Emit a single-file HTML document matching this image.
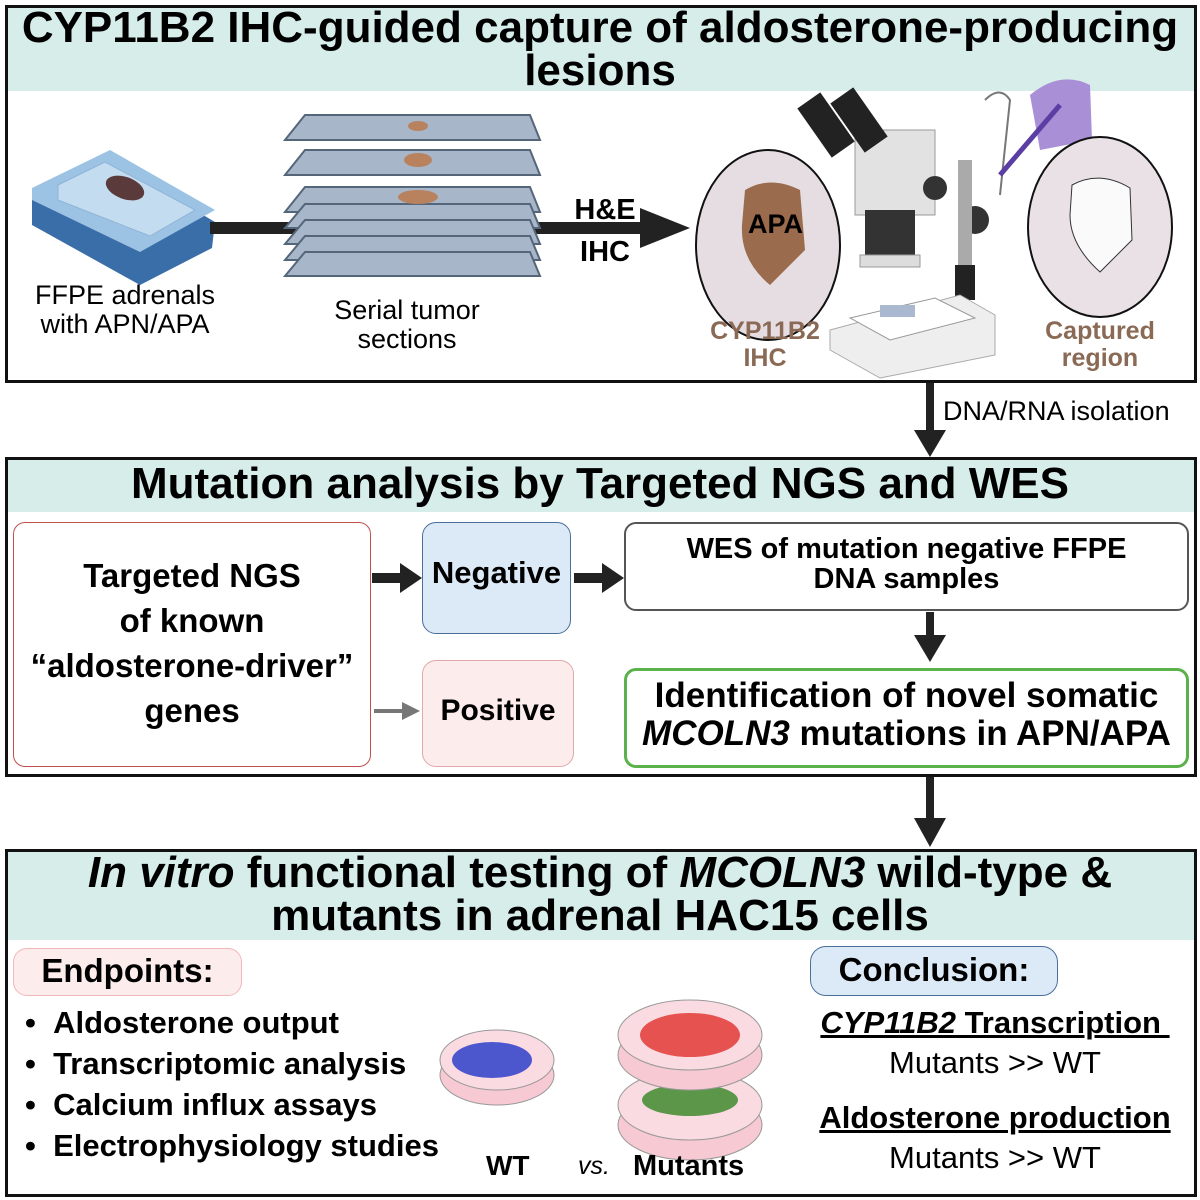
<!DOCTYPE html>
<html><head><meta charset="utf-8"><style>
body{margin:0;width:1200px;height:1200px;background:#fff;position:relative;font-family:"Liberation Sans",Arial,sans-serif;overflow:hidden}
.a{position:absolute}
.box{position:absolute;box-sizing:border-box}
.c{text-align:center}
b{font-weight:bold}
</style></head><body>
<!-- Section 1 -->
<div class="box" style="left:5px;top:5px;width:1192px;height:378px;border:3px solid #111"></div>
<div class="box" style="left:8px;top:8px;width:1186px;height:83px;background:#d6edea"></div>
<div class="a c" style="left:0;top:6px;width:1200px;font-size:44px;font-weight:bold;line-height:43px;white-space:nowrap">CYP11B2 IHC-guided capture of aldosterone-producing<br>lesions</div>

<svg class="a" style="left:0;top:0" width="1200" height="1200">
 <!-- block -->
 <polygon points="32,200 110,160 215,222 212,248 140,285 32,225" fill="#3a6ea8"/>
 <polygon points="32,188 110,150 215,210 140,252 32,200" fill="#9cc2e4"/>
 <polygon points="58,185 105,162 195,210 150,236 58,200" fill="#c4dcef" stroke="#8fb4d6"/>
 <ellipse cx="125" cy="188" rx="20" ry="11" fill="#5a3a3a" transform="rotate(20 125 188)"/>
 <!-- main arrow -->
 <rect x="210" y="222" width="430" height="12" fill="#222"/>
 <polygon points="640,208 690,228 640,248" fill="#222"/>
 <!-- slides -->
 <g fill="#a7b6c8" stroke="#55667a" stroke-width="2">
  <polygon points="305,115 530,115 540,140 285,140"/>
  <polygon points="305,150 530,150 540,175 285,175"/>
  <polygon points="305,187 530,187 540,212 285,212"/>
  <polygon points="305,204 530,204 540,228 285,228"/>
  <polygon points="305,220 530,220 540,244 285,244"/>
  <polygon points="305,236 530,236 540,260 285,260"/>
  <polygon points="305,252 530,252 540,276 285,276"/>
 </g>
 <ellipse cx="418" cy="126" rx="10" ry="5" fill="#b8825e"/>
 <ellipse cx="418" cy="160" rx="14" ry="7" fill="#b8825e"/>
 <ellipse cx="418" cy="197" rx="20" ry="7" fill="#b8825e"/>
 <!-- microscope -->
 <path d="M985,100 Q1000,85 1010,100 L1000,195" fill="none" stroke="#777" stroke-width="2"/>
 <rect x="855" y="130" width="80" height="85" fill="#e2e2e2" stroke="#999"/>
 <rect x="865" y="210" width="50" height="45" fill="#333"/>
 <rect x="860" y="255" width="60" height="12" fill="#ddd" stroke="#999"/>
 <circle cx="935" cy="188" r="12" fill="#333"/>
 <circle cx="975" cy="220" r="14" fill="#333"/>
 <rect x="958" y="160" width="14" height="140" fill="#aaa"/>
 <rect x="955" y="265" width="20" height="35" fill="#222"/>
 <polygon points="830,330 960,295 995,315 995,355 880,378 830,350" fill="#eee" stroke="#aaa"/>
 <polygon points="850,318 935,298 975,318 890,340" fill="#fff" stroke="#999"/>
 <rect x="880" y="305" width="35" height="12" fill="#aab8d0"/>
 <rect x="812" y="95" width="28" height="60" fill="#222" transform="rotate(-35 826 125)"/>
 <rect x="845" y="90" width="28" height="60" fill="#222" transform="rotate(-35 859 120)"/>
 <!-- hand -->
 <path d="M1030,95 Q1060,70 1090,85 L1092,140 L1040,150 Z" fill="#a98fd6"/>
 <line x1="1000" y1="175" x2="1060" y2="105" stroke="#5a3ea3" stroke-width="5"/>
 <!-- circles -->
 <ellipse cx="768" cy="245" rx="72" ry="95" fill="#e6dde2" stroke="#111" stroke-width="2"/>
 <path d="M745,190 Q770,175 800,190 L805,250 L770,285 Q740,260 742,225 Z" fill="#9a6b4c"/>
 <ellipse cx="1100" cy="227" rx="72" ry="90" fill="#e9e1e5" stroke="#111" stroke-width="2"/>
 <path d="M1072,185 Q1100,170 1130,188 L1132,240 L1100,272 Q1070,245 1070,215 Z" fill="#fafafa" stroke="#333"/>
 <!-- DNA arrow -->
 <rect x="926" y="383" width="8" height="50" fill="#222"/>
 <polygon points="914,430 930,457 946,430" fill="#222"/>
 <!-- arrow 2->3 -->
 <rect x="926" y="776" width="8" height="45" fill="#222"/>
 <polygon points="914,818 930,847 946,818" fill="#222"/>
 <!-- section 2 arrows -->
 <rect x="372" y="573" width="30" height="10" fill="#222"/><polygon points="400,563 422,578 400,593" fill="#222"/>
 <rect x="574" y="573" width="30" height="10" fill="#222"/><polygon points="602,563 624,578 602,593" fill="#222"/>
 <rect x="374" y="709" width="30" height="4" fill="#777"/><polygon points="402,702 420,711 402,720" fill="#777"/>
 <rect x="926" y="612" width="8" height="25" fill="#222"/><polygon points="914,635 930,662 946,635" fill="#222"/>
 <!-- dishes -->
 <ellipse cx="497" cy="1075" rx="57" ry="30" fill="#f6c9d3" stroke="#999"/>
 <ellipse cx="497" cy="1060" rx="57" ry="30" fill="#fbdbe2" stroke="#999"/>
 <ellipse cx="492" cy="1060" rx="40" ry="18" fill="#2d3ec9" opacity=".85"/>
 <ellipse cx="690" cy="1125" rx="72" ry="35" fill="#f6c9d3" stroke="#999"/>
 <ellipse cx="690" cy="1105" rx="72" ry="35" fill="#fbdbe2" stroke="#999"/>
 <ellipse cx="690" cy="1100" rx="48" ry="16" fill="#3f8a2e" opacity=".85"/>
 <ellipse cx="690" cy="1055" rx="72" ry="35" fill="#f6c9d3" stroke="#999"/>
 <ellipse cx="690" cy="1035" rx="72" ry="35" fill="#fbdbe2" stroke="#999"/>
 <ellipse cx="690" cy="1035" rx="50" ry="22" fill="#e23a35" opacity=".85"/>
</svg>
<div class="a c" style="left:0px;top:281px;width:250px;font-size:27px;line-height:29px">FFPE adrenals<br>with APN/APA</div>
<div class="a c" style="left:292px;top:296px;width:230px;font-size:27px;line-height:29px">Serial tumor<br>sections</div>
<div class="a c" style="left:555px;top:189px;width:100px;font-size:29px;font-weight:bold;line-height:42px">H&amp;E<br>IHC</div>
<div class="a" style="left:748px;top:209px;font-size:27px;font-weight:bold">APA</div>
<div class="a c" style="left:695px;top:318px;width:140px;font-size:25px;font-weight:bold;color:#8a6a55;line-height:27px">CYP11B2<br>IHC</div>
<div class="a c" style="left:1025px;top:318px;width:150px;font-size:25px;font-weight:bold;color:#8a6a55;line-height:27px">Captured<br>region</div>
<div class="a" style="left:943px;top:396px;font-size:27px">DNA/RNA isolation</div>

<!-- Section 2 -->
<div class="box" style="left:5px;top:457px;width:1192px;height:320px;border:3px solid #111"></div>
<div class="box" style="left:8px;top:460px;width:1186px;height:52px;background:#d6edea"></div>
<div class="a c" style="left:0;top:459px;width:1200px;font-size:44px;font-weight:bold">Mutation analysis by Targeted NGS and WES</div>
<div class="box c" style="left:13px;top:522px;width:358px;height:245px;border:1.5px solid #c0504d;border-radius:12px;padding-top:30px;font-size:33px;font-weight:bold;line-height:45px">Targeted NGS<br>of known<br>“aldosterone-driver”<br>genes</div>
<div class="box c" style="left:422px;top:522px;width:149px;height:112px;border:1.5px solid #4a6f9a;border-radius:14px;background:#dce9f7;padding-top:32px;font-size:31px;font-weight:bold">Negative</div>
<div class="box c" style="left:422px;top:660px;width:152px;height:107px;border:1.5px solid #e0a8a8;border-radius:14px;background:#fcecec;padding-top:33px;font-size:30px;font-weight:bold">Positive</div>
<div class="box c" style="left:624px;top:522px;width:565px;height:89px;border:2px solid #555;border-radius:12px;padding-top:10px;font-size:29px;font-weight:bold;line-height:30px">WES of mutation negative FFPE<br>DNA samples</div>
<div class="box c" style="left:624px;top:668px;width:565px;height:100px;border:3px solid #5bb14a;border-radius:12px;padding-top:6px;font-size:35px;font-weight:bold;line-height:38px">Identification of novel somatic<br><i>MCOLN3</i> mutations in APN/APA</div>

<!-- Section 3 -->
<div class="box" style="left:5px;top:849px;width:1192px;height:348px;border:3px solid #111"></div>
<div class="box" style="left:8px;top:852px;width:1186px;height:88px;background:#d6edea"></div>
<div class="a c" style="left:0;top:851px;width:1200px;font-size:44px;font-weight:bold;line-height:43px;white-space:nowrap"><i>In vitro</i> functional testing of <i>MCOLN3</i> wild-type &amp;<br>mutants in adrenal HAC15 cells</div>
<div class="box c" style="left:13px;top:948px;width:229px;height:48px;border:1.5px solid #f0b8b8;border-radius:14px;background:#fdecec;padding-top:3px;font-size:33px;font-weight:bold">Endpoints:</div>
<div class="box c" style="left:810px;top:946px;width:248px;height:50px;border:1.5px solid #4a6f9a;border-radius:16px;background:#dce9f7;padding-top:4px;font-size:33px;font-weight:bold">Conclusion:</div>
<div class="a" style="left:25px;top:1002px;font-size:31px;font-weight:bold;line-height:41px;white-space:nowrap">
•&nbsp;&nbsp;Aldosterone output<br>•&nbsp;&nbsp;Transcriptomic analysis<br>•&nbsp;&nbsp;Calcium influx assays<br>•&nbsp;&nbsp;Electrophysiology studies</div>
<div class="a" style="left:486px;top:1150px;font-size:28px;font-weight:bold">WT</div>
<div class="a" style="left:578px;top:1152px;font-size:25px;font-style:italic">vs.</div>
<div class="a" style="left:633px;top:1150px;font-size:29px;font-weight:bold">Mutants</div>
<div class="a c" style="left:790px;top:1003px;width:410px;font-size:31px;line-height:40px;white-space:nowrap"><b style="text-decoration:underline"><i>CYP11B2</i> Transcription&nbsp;</b><br>Mutants &gt;&gt; WT</div>
<div class="a c" style="left:790px;top:1098px;width:410px;font-size:31px;line-height:40px;white-space:nowrap"><b style="text-decoration:underline">Aldosterone production</b><br>Mutants &gt;&gt; WT</div>
</body></html>
